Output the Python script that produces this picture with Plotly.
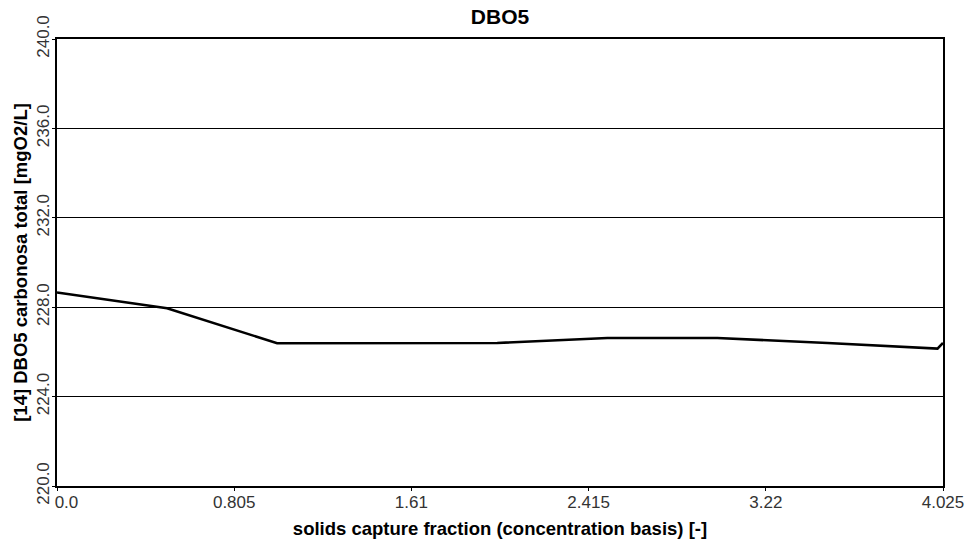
import plotly.graph_objects as go

# Solids capture fraction sweep and resulting total carbonaceous BOD5
capture_fraction = [0.0, 0.5, 1.0, 1.5, 2.0, 2.5, 3.0, 3.5, 4.0, 4.025]
dbo5_total = [228.66, 227.95, 226.39, 226.40, 226.40, 226.62, 226.62, 226.40, 226.15, 226.40]

x_tick_vals = [0.0, 0.805, 1.61, 2.415, 3.22, 4.025]
x_tick_text = ["\u00a0\u00a0\u00a0\u00a00.0", "0.805", "1.61", "2.415", "3.22", "4.025"]
y_tick_vals = [220, 224, 228, 232, 236, 240]
y_tick_text = ["220.0", "224.0", "228.0", "232.0", "236.0", "240.0"]

font_main = "Liberation Sans, Arial, sans-serif"

fig = go.Figure()
fig.add_trace(go.Scatter(
    x=capture_fraction,
    y=dbo5_total,
    mode="lines",
    line=dict(color="black", width=2.6),
    showlegend=False,
))

fig.update_layout(
    width=972,
    height=543,
    paper_bgcolor="white",
    plot_bgcolor="white",
    margin=dict(l=57, r=29, t=39, b=57),
    title=dict(
        text="<b>DBO5</b>",
        x=0.5, xref="paper", xanchor="center",
        y=1 - 17 / 543, yanchor="middle",
        font=dict(family=font_main, size=21, color="black"),
    ),
)

fig.update_xaxes(
    range=[0, 4.025],
    automargin=False,
    tickvals=x_tick_vals,
    ticktext=x_tick_text,
    ticks="outside", ticklen=3, tickwidth=1, tickcolor="black",
    ticklabelstandoff=-3,
    tickfont=dict(family=font_main, size=17, color="#333333"),
    showgrid=False, zeroline=False,
    showline=True, linecolor="black", linewidth=1.5, mirror=True,
    title=dict(
        text="<b>solids capture fraction (concentration basis) [-]</b>",
        font=dict(family=font_main, size=18.5, color="black"),
        standoff=11,
    ),
)

fig.update_yaxes(
    range=[220, 240],
    automargin=False,
    tickvals=y_tick_vals,
    ticktext=y_tick_text,
    tickangle=-90,
    ticks="outside", ticklen=3, tickwidth=1, tickcolor="black",
    ticklabelstandoff=-4,
    tickfont=dict(family=font_main, size=17, color="#333333"),
    showgrid=True, gridcolor="black", gridwidth=1,
    zeroline=False,
    showline=True, linecolor="black", linewidth=1.5, mirror=True,
    title=dict(
        text="<b>[14] DBO5 carbonosa total [mgO2/L]</b>",
        font=dict(family=font_main, size=18.5, color="black"),
        standoff=2,
    ),
)

fig.write_html("out.html")
